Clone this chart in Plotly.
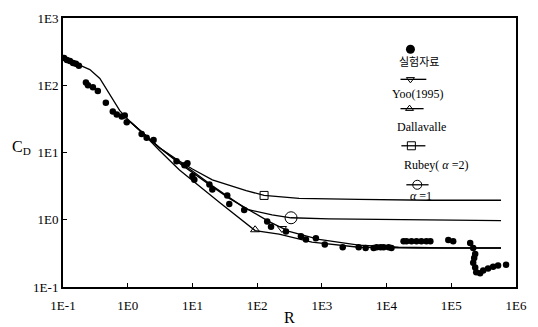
import plotly.graph_objects as go

# Experimental measurements (실험자료): Reynolds number R and drag coefficient C_D
exp_R = [0.104, 0.115, 0.128, 0.143, 0.158, 0.176,
         0.226, 0.243, 0.29, 0.345, 0.459, 0.588, 0.677, 0.809, 0.9, 0.966,
         1.64, 1.96, 2.51, 5.68, 7.53, 8.37, 10.0, 10.7,
         18.3, 20.3, 34.5, 37.1, 63.1, 143, 164, 279, 475, 568, 809, 1110, 2100,
         3710, 4750, 6310, 7020, 8090, 9000, 10740, 11900,
         18300, 20300, 24300, 29000, 34500, 41200, 47500,
         90000, 107000,
         196000, 218000, 234000, 226000, 218000, 234000, 243000, 279000,
         311000, 370000, 443000, 528000, 702000]
exp_CD = [255, 238, 230, 215, 208, 195,
          110, 100, 93.5, 82, 55, 40.6, 36.7, 34.4, 35.6, 28.1,
          18.8, 16.5, 15.4, 7.41, 6.49, 6.93, 4.49, 3.93,
          3.33, 2.81, 2.30, 1.71, 1.40, 0.94, 0.79, 0.67, 0.57, 0.51, 0.53, 0.43, 0.39,
          0.39, 0.38, 0.38, 0.39, 0.39, 0.39, 0.39, 0.38,
          0.48, 0.48, 0.48, 0.48, 0.48, 0.48, 0.48,
          0.50, 0.48,
          0.45, 0.38, 0.31, 0.27, 0.23, 0.195, 0.165, 0.16,
          0.176, 0.188, 0.20, 0.208, 0.215]

# Yoo (1995)
yoo_R = [0.1, 0.183, 0.26, 0.371, 0.528, 0.754, 1.07, 1.70, 3.10, 5.68, 10.0,
         18.3, 37.1, 75.4, 153, 311, 900, 3710, 15300, 90000, 587000]
yoo_CD = [255, 195, 171, 126, 71.6, 42.0, 29.1, 19.5, 11.8, 7.41, 4.97,
          3.33, 2.08, 1.40, 0.94, 0.67, 0.51, 0.42, 0.39, 0.38, 0.38]

# Dallavalle
dal_R = [1.07, 1.70, 3.10, 6.31, 26.0, 93.1, 218, 702, 3710, 31000, 587000]
dal_CD = [29.1, 19.5, 10.7, 5.48, 1.82, 0.69, 0.61, 0.465, 0.39, 0.38, 0.38]

# Rubey, alpha = 2
rub2_R = [1.07, 1.70, 3.10, 5.68, 10.0, 20.3, 67.7, 128, 443, 3710, 44300, 587000]
rub2_CD = [29.1, 19.5, 11.8, 7.93, 5.68, 3.93, 2.72, 2.30, 2.08, 2.01, 1.95, 1.95]

# Rubey, alpha = 1
rub1_R = [1.07, 1.70, 3.10, 5.68, 10.0, 20.3, 67.7, 170, 334, 1280, 15300, 587000]
rub1_CD = [29.1, 19.5, 11.8, 7.66, 5.31, 3.21, 1.44, 1.18, 1.07, 1.03, 1.0, 0.97]

# single symbol placed on each model curve
sym_yoo = (242, 0.74)
sym_dal = (93, 0.71)
sym_rub2 = (128, 2.30)
sym_rub1 = (334, 1.07)

tick_vals_x = [0.1, 1, 10, 100, 1e3, 1e4, 1e5, 1e6]
tick_text_x = ["1E-1", "1E0", "1E1", "1E2", "1E3", "1E4", "1E5", "1E6"]
tick_vals_y = [0.1, 1, 10, 100, 1e3]
tick_text_y = ["1E-1", "1E0", "1E1", "1E2", "1E3"]

SERIF = "Liberation Serif"
KOR = "Noto Sans CJK KR"
LINE = dict(color="black", width=1.3)

fig = go.Figure()

for xs, ys in [(yoo_R, yoo_CD), (dal_R, dal_CD), (rub2_R, rub2_CD), (rub1_R, rub1_CD)]:
    fig.add_trace(go.Scatter(x=xs, y=ys, mode="lines", line=LINE,
                             showlegend=False, hoverinfo="skip"))

fig.add_trace(go.Scatter(x=exp_R, y=exp_CD, mode="markers",
                         marker=dict(color="black", size=6.5, symbol="circle"),
                         showlegend=False))

for (rx, cy), sym, sz in [(sym_yoo, "triangle-down-open", 8),
                          (sym_dal, "triangle-up-open", 8),
                          (sym_rub2, "square-open", 8),
                          (sym_rub1, "circle-open", 12)]:
    fig.add_trace(go.Scatter(x=[rx], y=[cy], mode="markers",
                             marker=dict(color="black", size=sz, symbol=sym,
                                         line=dict(width=1, color="black")),
                             showlegend=False))

# key glyphs, drawn on a hidden unit overlay
key_rows = [
    # (y of glyph, line x0, line x1, symbol x, symbol, size)
    (0.772, 0.745, 0.802, 0.767, "triangle-down-open", 7),
    (0.663, 0.745, 0.796, 0.765, "triangle-up-open", 7),
    (0.525, 0.747, 0.800, 0.769, "square-open", 8),
    (0.380, 0.758, 0.807, 0.782, "circle-open", 9),
]
for yk, x0, x1, xs, sym, sz in key_rows:
    fig.add_trace(go.Scatter(x=[x0, x1], y=[yk, yk], mode="lines", line=LINE,
                             xaxis="x2", yaxis="y2", showlegend=False, hoverinfo="skip"))
    fig.add_trace(go.Scatter(x=[xs], y=[yk], mode="markers",
                             marker=dict(color="black", size=sz, symbol=sym,
                                         line=dict(width=1, color="black")),
                             xaxis="x2", yaxis="y2", showlegend=False, hoverinfo="skip"))
fig.add_trace(go.Scatter(x=[0.767], y=[0.884], mode="markers",
                         marker=dict(color="black", size=9, symbol="circle"),
                         xaxis="x2", yaxis="y2", showlegend=False, hoverinfo="skip"))

key_text = [
    (0.785, 0.840, "실험자료", KOR, 11),
    (0.782, 0.717, "Yoo(1995)", SERIF, 12),
    (0.791, 0.594, "Dallavalle", SERIF, 12),
    (0.824, 0.453, "Rubey( <i>α</i> =2)", SERIF, 12),
    (0.791, 0.337, "<i>α</i> =1", SERIF, 12),
]
for xk, yk, txt, fam, fs in key_text:
    fig.add_annotation(x=xk, y=yk, xref="paper", yref="paper", text=txt,
                       showarrow=False, font=dict(family=fam, size=fs, color="black"),
                       xanchor="center", yanchor="middle")

# axis titles
fig.add_annotation(x=-0.092, y=0.52, xref="paper", yref="paper", text="C<sub>D</sub>",
                   showarrow=False, font=dict(family=SERIF, size=16, color="black"),
                   xanchor="center", yanchor="middle")
fig.add_annotation(x=0.499, y=-0.112, xref="paper", yref="paper", text="R",
                   showarrow=False, font=dict(family=SERIF, size=16, color="black"),
                   xanchor="center", yanchor="middle")

axis_common = dict(showgrid=False, zeroline=False, showline=True, linecolor="black",
                   linewidth=2, mirror=True, ticks="inside", ticklen=4,
                   tickcolor="black", tickfont=dict(family=SERIF, size=13, color="black"))

fig.update_layout(
    width=538, height=327,
    margin=dict(l=63, r=20, t=11, b=40),
    paper_bgcolor="white", plot_bgcolor="white",
    font=dict(family=SERIF, color="black"),
    xaxis=dict(type="log", range=[-1, 6], tickvals=tick_vals_x, ticktext=tick_text_x,
               ticklabelstandoff=5, **axis_common),
    yaxis=dict(type="log", range=[-1, 3], tickvals=tick_vals_y, ticktext=tick_text_y,
               **axis_common),
    xaxis2=dict(overlaying="x", range=[0, 1], visible=False),
    yaxis2=dict(overlaying="y", range=[0, 1], visible=False),
)

fig.write_html("out.html")
